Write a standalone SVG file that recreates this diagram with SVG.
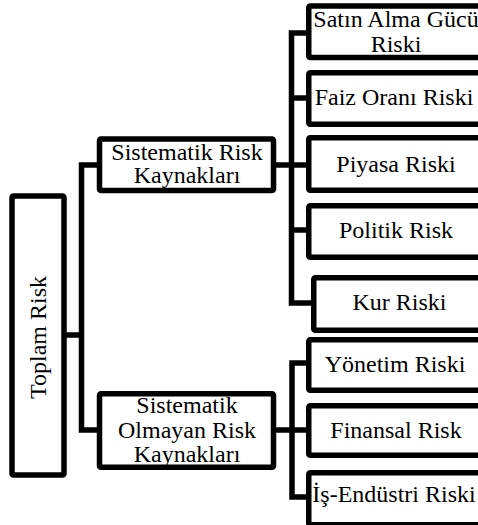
<svg xmlns="http://www.w3.org/2000/svg" width="478" height="525" viewBox="0 0 478 525">
<defs>
<style>
.box{fill:#fff;stroke:#000;stroke-width:5.5}
.c{fill:none;stroke:#000;stroke-width:5.5;stroke-linejoin:miter;stroke-linecap:butt}
</style>
</defs>
<rect width="478" height="525" fill="#fff"/>
<g id="connectors">
<path class="c" d="M64 335 H81.5"/>
<path class="c" d="M99.5 165 H81.5 V430 H99.5"/>
<path class="c" d="M273 165 H308.75"/>
<path class="c" d="M308.75 33 H291.5 V303 H313.75"/>
<path class="c" d="M291.5 98 H308.75"/>
<path class="c" d="M291.5 230 H308.75"/>
<path class="c" d="M273 430 H308.75"/>
<path class="c" d="M308.75 363 H292 V497 H308.75"/>
</g>
<g font-family="Liberation Serif" font-size="24" text-anchor="middle" fill="#000">
<g id="toplam">
<rect class="box" x="12" y="196" width="52" height="279" rx="1.5"/>
<text transform="translate(46 337.5) rotate(-90)">Toplam Risk</text>
</g>
<g id="sistematik">
<rect class="box" x="99.5" y="139" width="174" height="51.5" rx="1.5"/>
<text x="187" y="160">Sistematik Risk</text>
<text x="187" y="183">Kaynakları</text>
</g>
<g id="olmayan">
<rect class="box" x="99.5" y="393.8" width="174" height="73.5" rx="1.5"/>
<text x="187" y="413">Sistematik</text>
<text x="187" y="438">Olmayan Risk</text>
<text x="187" y="462">Kaynakları</text>
</g>
<g id="satin">
<rect class="box" x="308.75" y="6" width="174.5" height="51.5" rx="1.5"/>
<text x="396" y="27">Satın Alma Gücü</text>
<text x="396" y="52">Riski</text>
</g>
<g id="faiz">
<rect class="box" x="308.75" y="72.75" width="174.5" height="51.5" rx="1.5"/>
<text x="394" y="105">Faiz Oranı Riski</text>
</g>
<g id="piyasa">
<rect class="box" x="308.75" y="137.75" width="174.5" height="52.5" rx="1.5"/>
<text x="396" y="172">Piyasa Riski</text>
</g>
<g id="politik">
<rect class="box" x="308.75" y="205.75" width="174.5" height="51.5" rx="1.5"/>
<text x="396" y="238">Politik Risk</text>
</g>
<g id="kur">
<rect class="box" x="313.75" y="277.75" width="174.5" height="52.5" rx="1.5"/>
<text x="399.5" y="310">Kur Riski</text>
</g>
<g id="yonetim">
<rect class="box" x="308.75" y="339.75" width="174.5" height="50.5" rx="1.5"/>
<text x="395" y="372">Yönetim Riski</text>
</g>
<g id="finansal">
<rect class="box" x="308.75" y="405.75" width="174.5" height="49.5" rx="1.5"/>
<text x="396" y="438">Finansal Risk</text>
</g>
<g id="is">
<rect class="box" x="308.75" y="472.75" width="174.5" height="52" rx="1.5"/>
<text x="394" y="502">İş-Endüstri Riski</text>
</g>
</g>
</svg>
